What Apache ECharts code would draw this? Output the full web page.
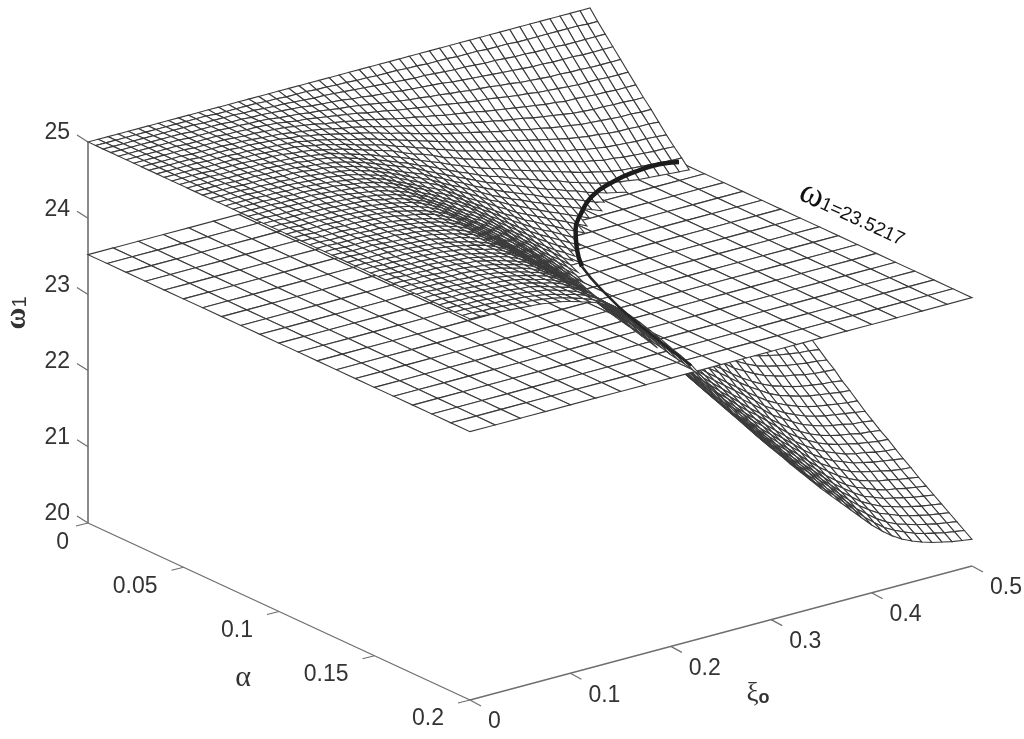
<!DOCTYPE html>
<html><head><meta charset="utf-8"><style>html,body{margin:0;background:#fff}#c{width:1024px;height:739px}</style>
<script src="https://cdn.jsdelivr.net/npm/echarts@6/dist/echarts.min.js"></script></head><body><div id="c"></div><script>
const xiGrid=Array.from({length:51},(_,i)=>i*.01);
const alphaGrid=Array.from({length:51},(_,j)=>j*.004);
// Depth of the surface below omega=25, in hundredths: one row per alpha, one column per xi.
const omegaDepth=[
[0,0,0,0,0,0,0,0,0,0, 0,0,0,0,0,0,0,0,0,0, 0,0,0,0,0,0,0,0,0,0, 0,0,0,0,0,0,0,0,0,0, 0,0,0,0,0,0,0,0,0,0,0],
[0,0,0,0,0,0,0,0,0,0, 0,0,1,1,1,1,1,2,2,3, 3,3,4,4,5,5,6,6,7,7, 7,8,8,9,9,9,10,10,10,11, 11,11,12,12,12,12,12,12,12,13,13],
[0,0,0,0,0,0,0,0,0,0, 1,1,1,1,2,2,3,4,4,5, 6,7,7,8,9,10,11,12,13,14, 15,16,16,17,18,19,19,20,21,21, 22,23,23,24,24,24,25,25,25,25,25],
[0,0,0,0,0,0,0,0,1,1, 1,1,2,2,3,3,4,5,6,7, 9,10,11,12,14,15,17,18,19,21, 22,23,24,25,27,28,29,30,31,32, 33,34,35,35,36,36,36,37,37,37,37],
[0,0,0,0,0,0,0,1,1,1, 1,2,2,3,3,4,6,7,8,10, 11,13,15,16,18,20,22,24,26,28, 29,31,32,34,35,37,38,39,41,42, 44,45,46,47,47,48,48,49,49,49,49],
[0,0,0,0,0,0,1,1,1,1, 2,2,3,3,4,5,7,9,10,12, 14,16,18,20,23,25,27,30,32,34, 36,38,40,42,44,46,47,49,51,53, 54,56,57,58,59,60,60,60,61,61,61],
[0,0,0,0,0,0,1,1,1,1, 2,3,3,4,5,6,8,10,12,15, 17,19,22,24,27,30,33,36,38,41, 43,46,48,50,52,55,57,59,61,63, 65,67,68,70,70,71,72,72,73,73,73],
[0,0,0,0,0,1,1,1,1,2, 2,3,4,5,6,8,10,12,14,17, 20,22,25,28,32,35,38,41,44,48, 50,53,56,58,61,63,66,68,70,73, 75,77,79,81,82,83,83,84,84,85,85],
[0,0,0,0,0,1,1,1,1,2, 2,3,4,5,7,8,11,13,16,19, 22,25,28,32,36,39,43,47,50,54, 57,60,63,66,69,72,74,77,80,82, 85,87,89,91,92,93,94,95,95,96,96],
[0,0,0,0,0,1,1,1,2,2, 3,4,5,6,7,10,12,15,18,22, 25,28,32,36,40,44,48,52,56,60, 64,67,71,74,77,80,83,86,89,92, 95,98,100,102,103,105,106,106,107,107,108],
[0,0,0,0,1,1,1,1,2,2, 3,4,5,6,8,11,13,17,20,24, 28,31,35,40,44,49,53,58,62,67, 71,74,78,82,85,89,92,96,99,102, 106,108,111,113,115,116,117,118,118,119,120],
[0,0,0,0,1,1,1,1,2,3, 3,4,6,7,9,12,15,18,22,26, 30,34,38,44,49,53,58,64,68,73, 77,81,85,89,93,97,101,105,108,112, 115,119,121,124,125,127,128,129,130,130,131],
[0,0,0,0,1,1,1,2,2,3, 4,5,6,8,10,12,16,20,24,28, 33,37,42,47,53,58,63,69,74,79, 84,88,92,97,101,105,109,113,117,121, 125,128,131,134,136,137,138,139,140,141,141],
[0,0,0,0,1,1,1,2,2,3, 4,5,7,8,10,13,17,21,26,30, 35,40,45,51,56,62,68,74,79,85, 90,94,99,104,108,113,117,121,126,130, 134,138,141,143,145,147,148,149,150,151,152],
[0,0,0,0,1,1,1,2,2,3, 4,6,7,9,11,14,18,22,27,32, 37,42,47,54,60,66,72,78,84,90, 95,100,105,110,115,120,124,129,133,138, 142,146,149,152,154,156,157,158,160,160,161],
[0,0,0,0,1,1,1,2,3,3, 4,6,7,9,12,15,19,24,29,34, 40,45,50,57,63,70,76,83,89,95, 101,106,111,116,122,127,131,136,141,146, 150,154,158,161,163,165,167,168,169,169,170],
[0,0,0,0,1,1,2,2,3,3, 5,6,8,10,12,16,20,25,30,36, 42,47,53,60,67,73,80,87,94,100, 106,111,117,122,128,133,138,143,148,153, 158,162,166,169,172,174,175,176,177,178,179],
[0,0,0,0,1,1,2,2,3,4, 5,6,8,10,13,17,21,26,32,38, 44,49,55,63,70,77,84,92,98,105, 111,117,123,129,134,140,145,151,156,161, 166,171,175,178,181,183,184,185,187,188,188],
[0,0,0,0,1,1,2,2,3,4, 5,7,9,11,14,17,22,28,34,40, 46,52,58,66,74,81,88,96,103,111, 117,123,129,135,141,147,153,158,164,169, 175,179,184,187,190,192,193,195,196,197,198],
[0,0,0,0,1,1,2,2,3,4, 5,7,9,11,14,18,23,29,35,41, 48,54,61,69,77,85,93,101,108,116, 122,129,135,142,148,154,160,166,171,177, 183,188,192,196,198,201,202,204,205,206,207],
[0,0,0,0,1,1,2,2,3,4, 6,7,9,12,15,19,24,30,37,43, 50,57,64,72,80,88,97,105,113,121, 128,134,141,148,154,161,167,173,179,185, 191,196,201,205,207,210,212,213,214,215,216],
[0,0,0,0,1,1,2,2,3,4, 6,8,10,12,16,20,25,32,38,45, 52,59,66,75,84,92,101,110,118,126, 133,140,147,154,161,168,174,180,187,193, 199,205,210,213,216,219,221,222,224,225,226],
[0,0,1,1,1,2,2,3,4,5, 6,8,10,13,16,21,26,33,40,47, 55,62,69,78,87,96,105,114,123,131, 139,146,154,161,168,175,181,188,194,201, 208,213,218,222,225,228,230,231,233,234,235],
[0,0,1,1,1,2,2,3,4,5, 6,8,11,13,17,22,27,34,41,49, 57,64,72,81,91,100,109,119,128,137, 144,152,160,167,174,182,188,195,202,209, 216,222,227,231,234,237,239,240,242,243,244],
[0,0,1,1,1,2,2,3,4,5, 7,9,11,14,17,22,28,35,43,51, 59,66,75,84,94,104,113,123,132,142, 150,158,166,173,181,189,196,203,210,217, 224,230,235,240,243,246,248,250,251,252,253],
[0,0,1,1,1,2,2,3,4,5, 7,9,11,14,18,23,29,37,45,53, 61,69,77,88,98,107,118,128,137,147, 155,163,172,180,188,195,203,210,218,225, 232,238,244,249,252,255,257,259,260,262,263],
[0,0,1,1,1,2,2,3,4,5, 7,9,12,15,19,24,30,38,46,54, 63,71,80,91,101,111,122,132,142,152, 161,169,178,186,194,202,210,218,225,233, 240,247,253,257,261,264,266,268,270,271,272],
[0,0,1,1,1,2,2,3,4,5, 7,10,12,15,19,25,31,39,48,56, 65,74,83,94,105,115,126,137,147,157, 166,175,184,192,201,209,217,225,233,241, 249,255,261,266,270,273,275,277,279,280,281],
[0,0,1,1,1,2,3,3,4,6, 8,10,13,16,20,26,33,41,49,58, 68,76,86,97,108,119,130,141,152,163, 172,181,190,199,208,216,224,233,241,249, 257,264,270,275,279,282,284,286,288,289,291],
[0,0,1,1,1,2,3,3,5,6, 8,10,13,16,21,26,34,42,51,60, 70,79,88,100,112,123,134,146,157,168, 177,186,196,205,214,223,232,240,248,257, 265,272,279,284,288,291,293,295,297,299,300],
[0,0,1,1,1,2,3,3,5,6, 8,11,13,17,21,27,35,43,52,62, 72,81,91,103,115,126,138,150,161,173, 183,192,202,211,220,230,238,247,256,264, 273,280,287,292,296,299,302,304,306,307,309],
[0,0,1,1,1,2,3,3,5,6, 8,11,14,17,22,28,36,44,54,64, 74,83,94,106,118,130,142,154,166,178, 188,197,208,217,227,236,245,254,263,272, 281,288,295,301,305,308,311,313,315,316,318],
[0,0,1,1,1,2,3,4,5,6, 8,11,14,18,22,29,37,46,55,65, 76,86,96,109,121,133,146,159,171,183, 193,203,213,223,233,243,252,261,270,279, 289,296,303,309,313,317,319,322,324,325,326],
[0,0,1,1,1,2,3,4,5,6, 9,12,14,18,23,30,38,47,57,67, 78,88,99,112,125,137,150,163,175,188, 199,209,219,230,240,250,259,269,278,288, 297,305,312,318,322,326,329,331,333,334,336],
[0,0,1,1,1,2,3,4,5,7, 9,12,15,19,24,30,38,48,58,69, 80,90,101,115,128,141,154,167,180,192, 204,214,225,235,246,256,266,275,285,295, 304,312,320,326,330,334,337,339,341,343,344],
[0,0,1,1,2,2,3,4,5,7, 9,12,15,19,24,31,40,49,60,71, 82,93,104,118,131,144,158,172,185,198, 209,220,231,242,252,263,273,283,293,303, 312,321,328,334,339,343,346,348,350,352,353],
[0,0,1,1,2,2,3,4,5,7, 9,12,16,19,25,32,41,51,61,72, 84,95,107,121,135,148,162,176,189,203, 214,225,236,247,258,269,279,289,299,309, 320,328,336,342,347,351,354,356,358,360,362],
[0,0,1,1,2,2,3,4,6,7, 10,13,16,20,25,32,41,52,62,74, 86,97,109,123,138,151,165,180,193,207, 219,230,242,253,264,275,286,296,306,316, 327,335,343,350,355,359,362,364,367,368,370],
[0,0,1,1,2,2,3,4,6,7, 10,13,16,20,26,33,42,53,64,76, 88,99,111,126,141,154,169,184,197,211, 224,235,247,258,270,281,292,303,313,324, 334,343,351,358,363,367,370,372,375,376,378],
[0,0,1,1,2,2,3,4,6,7, 10,13,17,21,26,34,43,54,65,77, 90,101,114,128,143,158,172,187,201,216, 228,240,252,264,275,287,298,308,319,330, 341,350,358,365,370,374,377,380,382,384,385],
[0,0,1,1,2,3,3,4,6,8, 10,14,17,21,27,35,44,55,67,79, 91,103,116,131,146,161,176,191,206,220, 233,244,257,269,281,293,304,315,326,337, 348,357,365,372,377,382,385,387,390,392,393],
[0,0,1,1,2,3,3,4,6,8, 10,14,17,22,28,35,45,56,68,80, 93,105,118,134,149,164,179,195,209,224, 237,249,262,274,286,298,309,321,332,343, 354,364,372,379,384,389,392,395,397,399,401],
[0,0,1,1,2,3,4,4,6,8, 11,14,18,22,28,36,46,57,69,82, 95,107,120,136,152,167,183,198,213,228, 241,254,267,279,292,304,315,327,338,349, 361,371,379,386,392,396,399,402,405,407,408],
[0,0,1,1,2,3,4,4,6,8, 11,14,18,22,29,37,46,58,71,83, 97,109,122,139,155,170,186,202,217,232, 246,258,272,284,297,309,321,333,344,356, 367,377,386,393,399,403,407,409,412,414,416],
[0,0,1,1,2,3,4,5,6,8, 11,15,18,23,29,37,47,59,72,85, 98,111,125,141,157,173,189,205,221,236, 250,263,276,289,302,315,326,338,350,362, 374,384,393,400,405,410,414,416,419,421,423],
[0,0,1,1,2,3,4,5,6,8, 11,15,18,23,30,38,48,60,73,86, 100,113,127,143,160,176,192,209,225,240, 254,267,281,294,307,320,332,344,356,368, 380,390,399,407,412,417,420,423,426,428,430],
[0,0,1,1,2,3,4,5,7,8, 11,15,19,23,30,38,49,61,74,87, 101,115,129,146,162,178,195,212,228,244, 258,271,285,299,312,325,337,349,362,374, 386,396,406,413,419,423,427,430,433,435,437],
[0,0,1,1,2,3,4,5,7,9, 11,15,19,24,31,39,50,62,75,89, 103,116,131,148,165,181,198,216,232,248, 262,276,290,303,317,330,342,355,367,380, 392,403,412,420,425,430,434,437,440,442,444],
[0,0,1,1,2,3,4,5,7,9, 12,16,19,24,31,40,50,63,77,90, 105,118,133,150,168,184,202,219,236,252, 267,280,295,308,322,336,348,361,373,386, 399,409,419,427,433,437,441,444,447,449,451],
[0,0,1,1,2,3,4,5,7,9, 12,16,20,25,32,40,51,64,78,92, 106,120,135,153,170,187,205,223,239,256, 271,285,299,313,327,341,354,366,379,392, 405,416,426,433,439,444,448,451,454,456,458],
[0,0,1,1,2,3,4,5,7,9, 12,16,20,25,32,41,52,65,79,93, 108,122,137,155,173,190,208,226,243,260, 275,289,304,318,332,346,359,372,385,398, 411,422,432,440,446,451,455,458,461,463,465]];
const omegaSurface=omegaDepth.map(r=>r.map(d=>25-d/100));
const planeOmega=23.5217;
const planeXi=[0,.025,.05,.075,.1,.125,.15,.175,.2,.225,.25,.275,.3,.325,.35,.375,.4,.425,.45,.475,.5];
const planeAlpha=[0,.01,.02,.03,.04,.05,.06,.07,.08,.09,.1,.11,.12,.13,.14,.15,.16,.17,.18,.19,.2];
const contourXi=[.5,.484,.46,.43,.398,.366,.342,.317,.296];
const contourAlpha=[.0466,.0445,.0452,.0484,.0546,.0655,.0755,.0893,.103];
const ridgeXi=[.296,.278,.252,.23];
const ridgeAlpha=[.103,.122,.157,.195];
const xiTicks=[0,.1,.2,.3,.4,.5], xiTickLabels=['0','0.1','0.2','0.3','0.4','0.5'];
const alphaTicks=[0,.05,.1,.15,.2], alphaTickLabels=['0','0.05','0.1','0.15','0.2'];
const omegaTicks=[20,21,22,23,24,25], omegaTickLabels=['20','21','22','23','24','25'];

const project=(xi,a,w)=>[88+xi/.5*502+a/.2*382, 523-xi/.5*134+a/.2*177-(w-20)*76.2];
const INK='#3a3a3a',AXIS='#6e6e6e',TXT='#333',SANS='"Liberation Sans",Arial,sans-serif',SERIF='"Liberation Serif",serif';

const below=[],above=[],plane=[];
for(let i=xiGrid.length-2;i>=0;i--)for(let j=0;j<alphaGrid.length-1;j++){
  const m=(omegaSurface[j][i]+omegaSurface[j][i+1]+omegaSurface[j+1][i]+omegaSurface[j+1][i+1])/4;
  (m<planeOmega?below:above).push([i,j]);
}
for(let i=planeXi.length-2;i>=0;i--)for(let j=0;j<planeAlpha.length-1;j++)plane.push([i,j]);

const cell=(api,pts)=>({type:'polygon',shape:{points:pts.map(p=>api.coord(project(p[0],p[1],p[2])))},
  style:{fill:'#fff',stroke:INK,lineWidth:1.1},silent:true});
const surfaceItem=(p,api)=>{const i=api.value(0),j=api.value(1),W=omegaSurface;
  return cell(api,[[xiGrid[i],alphaGrid[j],W[j][i]],[xiGrid[i+1],alphaGrid[j],W[j][i+1]],[xiGrid[i+1],alphaGrid[j+1],W[j+1][i+1]],[xiGrid[i],alphaGrid[j+1],W[j+1][i]]]);};
const planeItem=(p,api)=>{const i=api.value(0),j=api.value(1),w=planeOmega;
  return cell(api,[[planeXi[i],planeAlpha[j],w],[planeXi[i+1],planeAlpha[j],w],[planeXi[i+1],planeAlpha[j+1],w],[planeXi[i],planeAlpha[j+1],w]]);};

const seg=(api,a,b,w)=>{const A=api.coord(a),B=api.coord(b);return {type:'line',shape:{x1:A[0],y1:A[1],x2:B[0],y2:B[1]},style:{stroke:AXIS,lineWidth:w,fill:null},silent:true};};
const label=(api,q,t,align,dx,dy)=>{const P=api.coord(q);return {type:'text',x:P[0]+dx,y:P[1]+dy,silent:true,style:{text:t,align:align,verticalAlign:'middle',fill:TXT,font:'23px '+SANS}};};
const axesItem=(p,api)=>{
  const ch=[];
  ch.push(seg(api,project(0,0,20),project(0,0,25),1.6));
  ch.push(seg(api,project(0,0,20),project(0,.2,20),1.3));
  ch.push(seg(api,project(0,.2,20),project(.5,.2,20),1.3));
  omegaTicks.forEach((v,k)=>{const q=project(0,0,v);ch.push(seg(api,q,[q[0]-11,q[1]-7],1.2));ch.push(label(api,q,omegaTickLabels[k],'right',-18,-9));});
  alphaTicks.forEach((v,k)=>{const q=project(0,v,20);ch.push(seg(api,q,[q[0]-12,q[1]+3],1.2));ch.push(label(api,q,alphaTickLabels[k],'right',v?-26:-19,v?19:20));});
  xiTicks.forEach((v,k)=>{const q=project(v,.2,20);ch.push(seg(api,q,[q[0]+11,q[1]+6],1.2));ch.push(label(api,q,xiTickLabels[k],'left',18,22));});
  const t=(x,y,text,rich,rot)=>({type:'text',x,y,rotation:rot||0,silent:true,style:{text,rich,align:'center',verticalAlign:'middle',fill:TXT}});
  ch.push(t(243,678,'α',undefined));ch[ch.length-1].style.font='30px '+SERIF;
  ch.push(t(758,694,'{a|ξ}{b|o}',{a:{font:'27px '+SERIF,fill:TXT},b:{font:'bold 18px '+SANS,fill:TXT,padding:[8,0,0,0]}}));
  ch.push(t(17,313,'{a|ω}{b|1}',{a:{font:'bold 30px '+SERIF,fill:TXT},b:{font:'20px '+SANS,fill:TXT,padding:[6,0,0,0]}},Math.PI/2));
  ch.push(t(853,214,'{a|ω}{b|1=23.5217}',{a:{font:'36px '+SERIF,fill:'#111'},b:{font:'19px '+SANS,fill:'#111',padding:[7,0,0,0]}},-24.6*Math.PI/180));
  return {type:'group',children:ch};
};
const custom=(name,data,fn,z)=>({type:'custom',name,data,renderItem:fn,z,coordinateSystem:'cartesian2d',clip:false,animation:false,progressive:0,encode:{x:0,y:1}});
const chart=echarts.init(document.getElementById('c'));
chart.setOption({animation:false,backgroundColor:'#fff',
  grid:{left:0,right:0,top:0,bottom:0},
  xAxis:{type:'value',min:0,max:1024,show:false},
  yAxis:{type:'value',min:0,max:739,inverse:true,show:false},
  series:[
    custom('axes',[[0,0]],axesItem,1),
    custom('surface below plane',below,surfaceItem,2),
    custom('plane',plane,planeItem,3),
    custom('surface above plane',above,surfaceItem,4),
    {type:'line',name:'ridge',z:5,showSymbol:false,smooth:true,animation:false,data:ridgeXi.map((x,k)=>project(x,ridgeAlpha[k],planeOmega)),lineStyle:{color:'#262626',width:2.5}},
    {type:'line',name:'contour',z:6,showSymbol:false,smooth:true,animation:false,data:contourXi.map((x,k)=>project(x,contourAlpha[k],planeOmega)),lineStyle:{color:'#1c1c1c',width:4.5}}
  ]});
</script></body></html>
